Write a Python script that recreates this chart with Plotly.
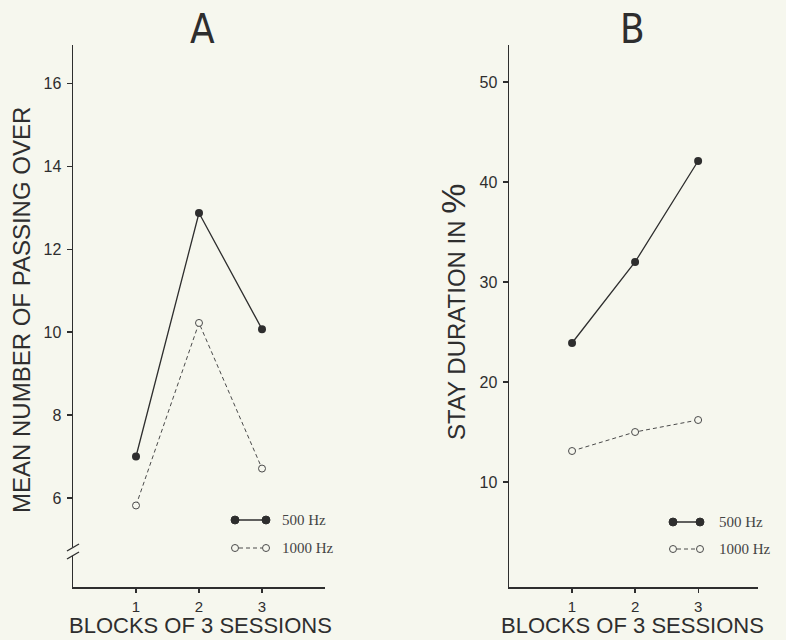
import plotly.graph_objects as go

# ---------------- data ----------------
blocks = [1, 2, 3]
block_labels = ["1", "2", "3"]
series_names = ["500 Hz", "1000 Hz"]
a_500 = [7.0, 12.87, 10.07]
a_1000 = [5.82, 10.22, 6.71]
b_500 = [23.9, 32.0, 42.1]
b_1000 = [13.1, 15.0, 16.2]
a_yticks = [6, 8, 10, 12, 14, 16]
b_yticks = [10, 20, 30, 40, 50]
panel_titles = ["A", "B"]
a_ytitle = "MEAN NUMBER OF PASSING OVER"
b_ytitle = "STAY DURATION IN"
x_title = "BLOCKS OF 3 SESSIONS"

# ---------------- styling ----------------
W, H = 786, 640
BG = "#f6f7ee"
INK = "#2e2e2e"
SANS = "Liberation Sans, Arial, sans-serif"
TITLE_FONT = "Liberation Sans Narrow, DejaVu Sans Condensed, Liberation Sans, sans-serif"
SERIF = "Liberation Serif, Times New Roman, serif"


def px(x):
    return x / W


def py(y):
    return 1 - y / H


fig = go.Figure()

solid = dict(mode="lines+markers", line=dict(color=INK, width=1.3),
             marker=dict(color=INK, size=8, symbol="circle"), showlegend=False)
dashed = dict(mode="lines+markers", line=dict(color="#4a4a4a", width=1, dash="4px,3px"),
              marker=dict(color=BG, size=7, symbol="circle", line=dict(color="#4a4a4a", width=1)),
              showlegend=False)

fig.add_trace(go.Scatter(x=blocks, y=a_500, name=series_names[0], xaxis="x", yaxis="y", **solid))
fig.add_trace(go.Scatter(x=blocks, y=a_1000, name=series_names[1], xaxis="x", yaxis="y", **dashed))
fig.add_trace(go.Scatter(x=blocks, y=b_500, name=series_names[0], xaxis="x2", yaxis="y2", **solid))
fig.add_trace(go.Scatter(x=blocks, y=b_1000, name=series_names[1], xaxis="x2", yaxis="y2", **dashed))

common_axis = dict(showline=True, linecolor=INK, linewidth=1.5, showgrid=False, zeroline=False,
                   ticks="outside", tickwidth=1.2, tickcolor=INK, fixedrange=True)
y_axis_style = dict(ticklen=5, ticklabelstandoff=2,
                    tickfont=dict(family=SANS, size=16, color=INK), **common_axis)
x_axis_style = dict(ticklen=4, ticklabelstandoff=1,
                    tickfont=dict(family=SANS, size=15, color=INK), **common_axis)

y_dom = [py(587), py(45)]

fig.update_layout(
    width=W, height=H,
    margin=dict(l=0, r=0, t=0, b=0),
    paper_bgcolor=BG, plot_bgcolor=BG,
    showlegend=False,
    xaxis=dict(domain=[px(73), px(325)], range=[0, 4], tickvals=blocks, ticktext=block_labels,
               anchor="y", **x_axis_style),
    yaxis=dict(domain=y_dom, range=[3.855, 16.92], tickvals=a_yticks,
               anchor="x", **y_axis_style),
    xaxis2=dict(domain=[px(509), px(758)], range=[0, 3.95], tickvals=blocks, ticktext=block_labels,
                anchor="y2", **x_axis_style),
    yaxis2=dict(domain=y_dom, range=[-0.5, 53.7], tickvals=b_yticks,
                anchor="x2", **y_axis_style),
)

annotations = []
# panel titles
for t, cx in zip(panel_titles, [202, 632]):
    annotations.append(dict(text=t, x=px(cx), y=py(29), xref="paper", yref="paper",
                            xanchor="center", yanchor="middle", showarrow=False,
                            font=dict(family=TITLE_FONT, size=40, color=INK)))
# x titles
for cx in [200, 632]:
    annotations.append(dict(text=x_title, x=px(cx), y=0, xref="paper", yref="paper",
                            xanchor="center", yanchor="bottom", showarrow=False,
                            font=dict(family=SANS, size=22, color=INK)))
# y titles
annotations.append(dict(text=a_ytitle, x=px(21), y=py(310), xref="paper", yref="paper",
                        xanchor="center", yanchor="middle", textangle=-90, showarrow=False,
                        font=dict(family=SANS, size=24, color=INK)))
annotations.append(dict(text=b_ytitle + " <span style=\"font-size:34px\">%</span>",
                        x=px(453), y=py(312), xref="paper", yref="paper",
                        xanchor="center", yanchor="middle", textangle=-90, showarrow=False,
                        font=dict(family=SANS, size=24, color=INK)))

shapes = []
# legend samples
for (x0, x1, tx, y1r, y2r) in [(235, 266, 280, 520, 548), (673, 700, 717, 522, 549)]:
    shapes.append(dict(type="line", xref="paper", yref="paper", x0=px(x0), x1=px(x1),
                       y0=py(y1r), y1=py(y1r), line=dict(color=INK, width=1.5)))
    for xc in (x0, x1):
        shapes.append(dict(type="circle", xref="paper", yref="paper",
                           x0=px(xc - 4), x1=px(xc + 4), y0=py(y1r + 4), y1=py(y1r - 4),
                           fillcolor=INK, line=dict(color=INK, width=1)))
    shapes.append(dict(type="line", xref="paper", yref="paper", x0=px(x0 + 4), x1=px(x1 - 4),
                       y0=py(y2r), y1=py(y2r), line=dict(color="#4a4a4a", width=1, dash="4px,3px")))
    for xc in (x0, x1):
        shapes.append(dict(type="circle", xref="paper", yref="paper",
                           x0=px(xc - 3.5), x1=px(xc + 3.5), y0=py(y2r + 3.5), y1=py(y2r - 3.5),
                           fillcolor=BG, line=dict(color="#4a4a4a", width=1)))
    for name, yy in zip(series_names, [y1r, y2r]):
        annotations.append(dict(text=name, x=px(tx), y=py(yy), xref="paper", yref="paper",
                                xanchor="left", yanchor="middle", showarrow=False,
                                font=dict(family=SERIF, size=15, color="#444")))

# axis break on panel A y-axis
shapes.append(dict(type="rect", xref="paper", yref="paper", layer="above",
                   x0=px(70), x1=px(77), y0=py(556), y1=py(547),
                   fillcolor=BG, line=dict(width=0)))
for yb in (544, 552):
    shapes.append(dict(type="line", xref="paper", yref="paper", layer="above",
                       x0=px(67), x1=px(79), y0=py(yb + 7), y1=py(yb),
                       line=dict(color=INK, width=1.4)))

fig.update_layout(annotations=annotations, shapes=shapes)

fig.write_html(
    "out.html",
    config={"displayModeBar": False, "staticPlot": True},
    post_script="document.body.style.margin='0';document.body.style.overflow='hidden';"
                "document.body.style.background='" + BG + "';",
)
